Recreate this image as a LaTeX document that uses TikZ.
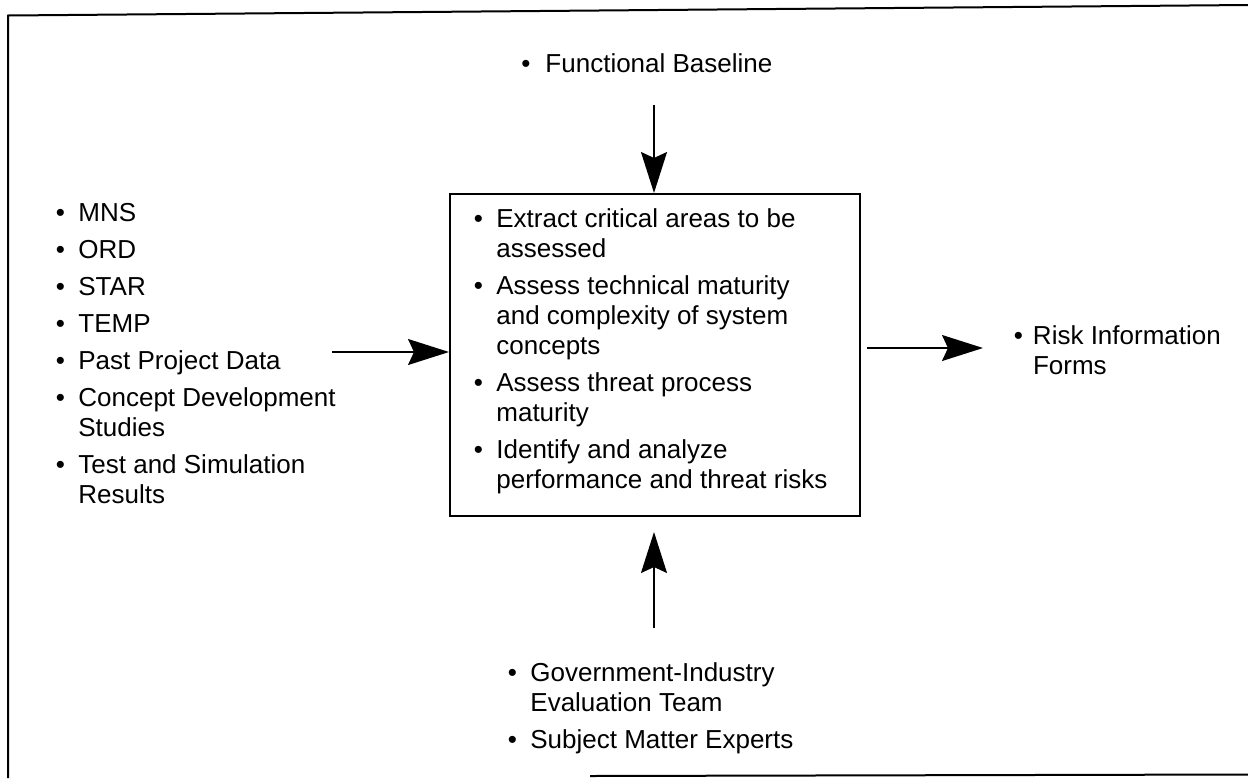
\documentclass[tikz,border=0pt]{standalone}
\usepackage{fontspec}
\setmainfont{Liberation Sans}
\usetikzlibrary{arrows.meta}
\newcommand\blist[2]{{\fontsize{13}{15}\selectfont\begin{tabular}[t]{@{}l@{\hspace{#1}}l@{}}#2\end{tabular}}}
\begin{document}
\begin{tikzpicture}[x=0.5pt,y=-0.5pt,
  frame/.style={line width=1pt},
  bigarrow/.style={-{Stealth[length=20.5pt,width=13pt,inset=3pt]}, line width=0.8pt},
  listnode/.style={inner sep=0pt, anchor=base west},
  procbox/.style={draw, line width=0.8pt, inner sep=0pt, anchor=north west, minimum width=205pt, minimum height=161pt}]
\useasboundingbox (0,0) rectangle (1248,778);
% frame
\coordinate (ftl) at (8,15.5);
\coordinate (ftr) at (1248,5);
\coordinate (fbl) at (8,778);
\coordinate (fbm) at (590,776);
\coordinate (fbr) at (1248,774.5);
\draw[frame] (fbl) -- (ftl) -- (ftr);
\draw[frame] (fbm) -- (fbr);
% process box
\node[procbox] (box) at (449,193) {};
\node[listnode] (proc) at (473.5,227) {\blist{6.7pt}{%
\textbullet & Extract critical areas to be\\ & assessed\\[3.5pt]
\textbullet & Assess technical maturity\\ & and complexity of system\\ & concepts\\[3.5pt]
\textbullet & Assess threat process\\ & maturity\\[3.5pt]
\textbullet & Identify and analyze\\ & performance and threat risks}};
% inputs
\node[listnode] (fb) at (521,72) {\blist{7.5pt}{\textbullet & Functional Baseline}};
\node[listnode] (inputs) at (55.5,221) {\blist{6.7pt}{%
\textbullet & MNS\\[3.5pt]
\textbullet & ORD\\[3.5pt]
\textbullet & STAR\\[3.5pt]
\textbullet & TEMP\\[3.5pt]
\textbullet & Past Project Data\\[3.5pt]
\textbullet & Concept Development\\ & Studies\\[3.5pt]
\textbullet & Test and Simulation\\ & Results}};
\node[listnode] (risk) at (1013.5,344) {\blist{5pt}{\textbullet & Risk Information\\ & Forms}};
\node[listnode] (team) at (507.5,681) {\blist{6.7pt}{%
\textbullet & Government-Industry\\ & Evaluation Team\\[3.5pt]
\textbullet & Subject Matter Experts}};
% connectors
\coordinate (topstart) at (654,105);
\coordinate (leftstart) at (332,352);
\coordinate (rightstart) at (867,348);
\coordinate (rightend) at (983,348);
\coordinate (botstart) at (654,628);
\coordinate (botend) at (654,532);
\draw[bigarrow] (topstart) -- (topstart |- box.north);
\draw[bigarrow] (leftstart) -- (leftstart -| box.west);
\draw[bigarrow] (rightstart) -- (rightend);
\draw[bigarrow] (botstart) -- (botend);
\end{tikzpicture}
\end{document}
